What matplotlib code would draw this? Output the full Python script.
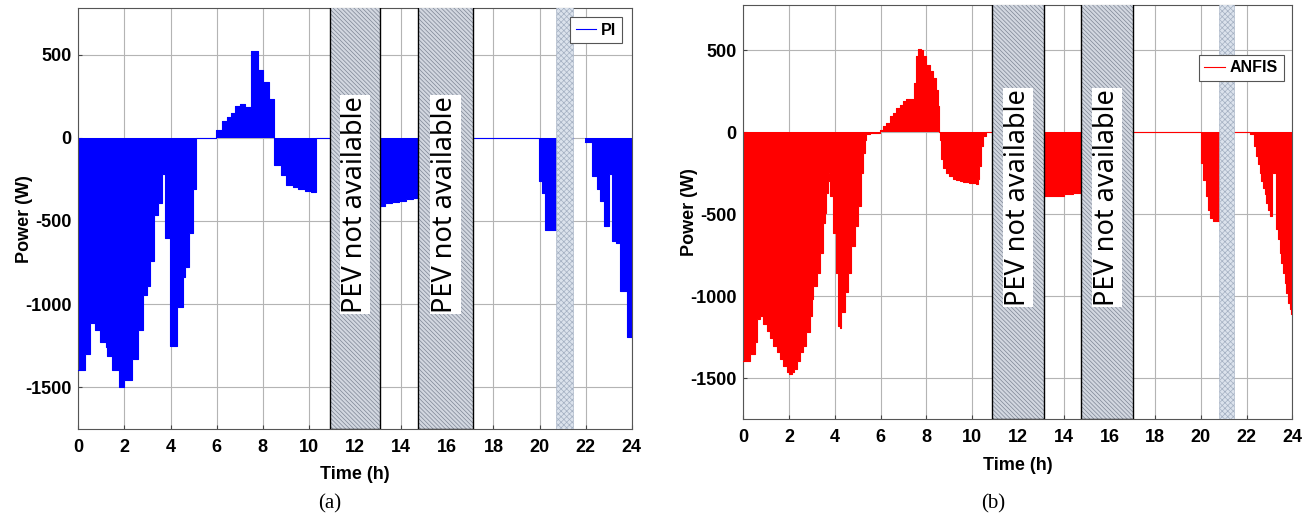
import numpy as np
import matplotlib
matplotlib.use("Agg")
import matplotlib.pyplot as plt
from matplotlib.patches import Rectangle

plt.rcParams['font.family'] = ['Liberation Sans', 'DejaVu Sans']
plt.rcParams['hatch.linewidth'] = 0.5
plt.rcParams['axes.unicode_minus'] = False

nan = np.nan

# PI controller: step start times (h) and power (W)
pi_t = [0, 0.29, 0.5, 0.72, 0.94, 1.2, 1.24, 1.46, 1.77, 1.98, 2.31, 2.6, 2.81, 2.96,
        3.1, 3.29, 3.46, 3.61, 3.78, 3.98, 4.26, 4.52, 4.62, 4.81, 4.98, 5.12, 5.99,
        6.25, 6.46, 6.6, 6.79, 7.0, 7.24, 7.47, 7.79, 8.0, 8.27, 8.47, 8.8, 8.99, 9.31,
        9.52, 9.81, 10.1, 10.29, 13.09, 13.3, 13.6, 13.9, 14.2, 14.5, 14.72, 17.1,
        19.99, 20.09, 20.24, 20.71, 21.46, 21.97, 22.26, 22.48, 22.62, 22.8, 23.03,
        23.13, 23.32, 23.49, 23.78, 24.0]
pi_p = [-1398, -1302, -1114, -1158, -1228, -1258, -1314, -1398, -1498, -1454, -1332,
        -1158, -944, -888, -742, -462, -392, -220, -604, -1252, -1018, -834, -778, -574,
        -308, 0, 46, 98, 126, 150, 188, 202, 186, 522, 406, 334, 234, -162, -224, -282,
        -298, -310, -320, -328, 0, -408, -392, -385, -378, -370, -362, 0, 0,
        -258, -334, -554, 0, nan, -24, -230, -308, -380, -530, -220,
        -620, -630, -920, -1200, -1200]

# ANFIS controller
anfis_t = [0, 0.29, 0.51, 0.61, 0.73, 0.87, 1.02, 1.16, 1.31, 1.45, 1.6, 1.74, 1.89,
           1.99, 2.11, 2.21, 2.33, 2.47, 2.62, 2.76, 2.91, 2.98, 3.05, 3.2, 3.34, 3.49,
           3.56, 3.63, 3.71, 3.75, 3.78, 3.92, 4.03, 4.14, 4.22, 4.29, 4.43, 4.58, 4.72,
           4.87, 5.01, 5.16, 5.23, 5.31, 5.38, 5.52, 5.96, 6.1, 6.25, 6.4, 6.54, 6.69,
           6.83, 6.98, 7.12, 7.27, 7.41, 7.46, 7.56, 7.63, 7.78, 7.85, 7.99, 8.14, 8.28,
           8.43, 8.5, 8.55, 8.58, 8.65, 8.72, 8.87, 9.01, 9.16, 9.3, 9.45, 9.59, 9.88,
           10.03, 10.17, 10.25, 10.32, 10.39, 10.47, 10.61, 13.15, 13.5, 14.0, 14.4,
           14.75, 17.05, 19.99, 20.09, 20.24, 20.31, 20.41, 20.52, 20.82, 22.13, 22.34,
           22.42, 22.49, 22.56, 22.64, 22.71, 22.78, 22.85, 22.93, 23.0, 23.11, 23.26,
           23.36, 23.44, 23.51, 23.58, 23.66, 23.73, 23.8, 23.88, 23.95, 24.0]
anfis_p = [-1395, -1354, -1283, -1141, -1121, -1171, -1212, -1253, -1303, -1344, -1384,
           -1425, -1466, -1476, -1466, -1445, -1395, -1344, -1303, -1222, -1121, -1019,
           -938, -857, -735, -552, -491, -369, -298, -248, -390, -613, -857, -1181, -1192,
           -1100, -978, -857, -694, -572, -451, -248, -126, -45, -14, -5, 15, 37, 57, 97,
           118, 148, 168, 189, 203, 205, 199, 300, 463, 508, 503, 463, 412, 371, 331, 260,
           158, 0, -45, -166, -217, -248, -268, -284, -292, -298, -304, -309, -313, -319,
           -288, -207, -85, -24, 0, -392, -388, -378, -368, 0, 0, -187, -289, -390, -472,
           -522, -543, 0, -14, -85, -146, -197, -248, -299, -339, -380, -431, -472, -512,
           -248, -593, -654, -736, -797, -858, -919, -980, -1041, -1080, -1112, -1112]

# unavailable windows (start, end) in hours
pi_boxes = [(10.9, 13.09), (14.72, 17.1)]
pi_strip = (20.71, 21.46)
anfis_boxes = [(10.87, 13.15), (14.75, 17.05)]
anfis_strip = (20.8, 21.45)


def draw_panel(ax, t, p, color, name, boxes, strip, leg_anchor, xlab_y):
    ax.fill_between(t, p, 0, step='post', color=color, linewidth=0, zorder=2)
    ax.step(t, p, where='post', color=color, lw=0.8, label=name, zorder=3)
    for a, b in boxes:
        ax.add_patch(Rectangle((a, -1750), b - a, 2600, facecolor='#d2d7e0',
                               edgecolor='#7d8594', hatch='\\\\\\\\\\\\\\\\', lw=0, zorder=4))
        ax.add_patch(Rectangle((a, -1750), b - a, 2600, facecolor='none',
                               edgecolor='black', lw=1.0, zorder=4))
        ax.text((a + b) / 2, -400, 'PEV not available', rotation=90, ha='center',
                va='center', fontsize=19.5, family=['Noto Sans', 'DejaVu Sans'],
                bbox=dict(facecolor='white', edgecolor='none', pad=1.0), zorder=5)
    a, b = strip
    ax.add_patch(Rectangle((a, -1750), b - a, 2600, facecolor='#dbe2ec',
                           edgecolor='#a4b0c2', hatch='xxxxxx', lw=0.4, zorder=4))
    ax.set_xlim(0, 24)
    ax.set_ylim(-1750, 778)
    ax.set_xticks(np.arange(0, 25, 2))
    ax.set_yticks([-1500, -1000, -500, 0, 500])
    ax.grid(True, color='#b4b4b4', lw=0.8, zorder=0)
    ax.set_axisbelow(True)
    ax.tick_params(direction='in', length=3, labelsize=13, color='#444444')
    ax.tick_params(axis='x', pad=7)
    ax.tick_params(axis='y', pad=5)
    for lb in ax.get_xticklabels() + ax.get_yticklabels():
        lb.set_fontweight('bold')
    for s in ax.spines.values():
        s.set_color('#555555')
        s.set_linewidth(0.8)
    ax.set_xlabel('Time (h)', fontsize=13, fontweight='bold')
    ax.set_ylabel('Power (W)', fontsize=13, fontweight='bold')
    ax.xaxis.set_label_coords(0.5, xlab_y)
    ax.yaxis.set_label_coords(-0.082, 0.5)
    leg = ax.legend(loc='upper right', bbox_to_anchor=leg_anchor, borderaxespad=0,
                    prop={'weight': 'bold', 'size': 11.5}, handlelength=1.3,
                    handletextpad=0.3, borderpad=0.35, fancybox=False, framealpha=1)
    leg.get_frame().set_edgecolor('#555555')
    leg.get_frame().set_linewidth(0.8)
    leg.set_zorder(6)


fig = plt.figure(figsize=(13.14, 5.21), dpi=100)
ax1 = fig.add_axes([0.0596, 0.1766, 0.4212, 0.8075])
ax2 = fig.add_axes([0.5657, 0.1958, 0.4179, 0.7952])

draw_panel(ax1, pi_t, pi_p, '#0000ff', 'PI', pi_boxes, pi_strip, (0.9825, 0.979), -0.088)
draw_panel(ax2, anfis_t, anfis_p, '#ff0000', 'ANFIS', anfis_boxes, anfis_strip,
           (0.984, 0.879), -0.092)

fig.text(0.251, 0.033, '(a)', fontsize=15, family=['Liberation Serif', 'DejaVu Serif'],
         ha='center', va='center')
fig.text(0.756, 0.033, '(b)', fontsize=15, family=['Liberation Serif', 'DejaVu Serif'],
         ha='center', va='center')

fig.savefig('out.png', dpi=100)
